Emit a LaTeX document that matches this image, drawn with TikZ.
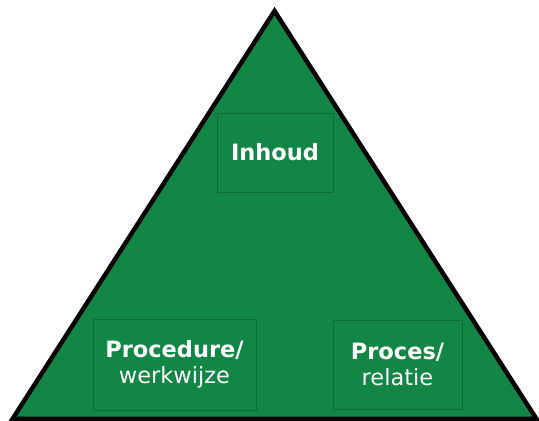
\documentclass[tikz,border=0pt]{standalone}
\usepackage{fontspec}
\setmainfont{DejaVu Sans}
\definecolor{trigreen}{RGB}{18,134,68}
\definecolor{boxline}{RGB}{12,106,52}
\begin{document}
\begin{tikzpicture}[x=1pt,y=1pt,
  labelbox/.style={draw=boxline, line width=0.8pt, text=white, align=center,
    font=\fontsize{22.5}{26.5}\selectfont, inner sep=0pt}]
\useasboundingbox (0,0) rectangle (539,421);
\coordinate (apex) at (274.5,410);
\coordinate (bl) at (12.5,2);
\coordinate (br) at (536.5,2);
\draw[line width=4.5pt, fill=trigreen, line join=miter] (apex) -- (br) -- (bl) -- cycle;
\node[labelbox, minimum width=116pt, minimum height=79pt] (inhoud) at (275,268.5) {\textbf{Inhoud}};
\node[labelbox, minimum width=163pt, minimum height=91pt] (procedure) at (174.5,56.5) {\textbf{Procedure/}\\werkwijze};
\node[labelbox, minimum width=129pt, minimum height=89pt] (proces) at (397.5,56.5) {\textbf{Proces/}\\relatie};
\end{tikzpicture}
\end{document}
